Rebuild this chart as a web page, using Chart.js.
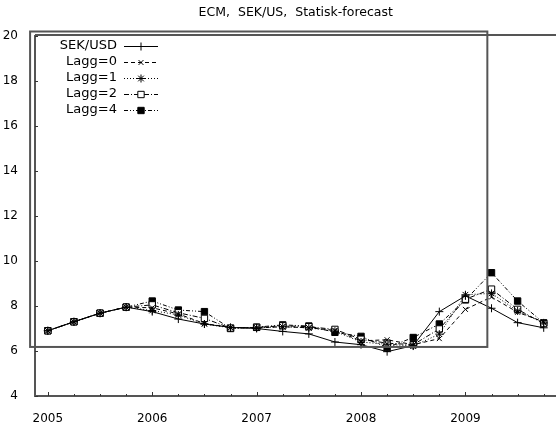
<!DOCTYPE html>
<html>
<head>
<meta charset="utf-8">
<script src="https://cdn.jsdelivr.net/npm/chart.js@4.4.1/dist/chart.umd.min.js"></script>
<style>
    html, body { margin: 0; padding: 0; background: #fff; overflow: hidden; }
    #wrap { position: relative; width: 556px; height: 423px; }
</style>
</head>
<body>
<div id="wrap"><canvas id="ecmChart" width="556" height="423"></canvas></div>
<script>
// Quarterly SEK/USD and the static forecasts, 2005Q1 - 2009Q4
const quarters = [2005, 2005.25, 2005.5, 2005.75, 2006, 2006.25, 2006.5, 2006.75,
                  2007, 2007.25, 2007.5, 2007.75, 2008, 2008.25, 2008.5, 2008.75,
                  2009, 2009.25, 2009.5, 2009.75];
const sekUsd = [6.90, 7.30, 7.68, 7.95, 7.75, 7.42, 7.20, 7.05, 7.00, 6.87,
                6.76, 6.40, 6.28, 5.97, 6.24, 7.75, 8.45, 7.90, 7.26, 7.03];
const lagg0  = [6.90, 7.30, 7.68, 7.95, 7.92, 7.65, 7.22, 7.05, 7.02, 7.08,
                7.03, 6.92, 6.45, 6.50, 6.28, 6.55, 7.85, 8.40, 7.72, 7.30];
const lagg1  = [6.90, 7.30, 7.68, 7.95, 7.80, 7.60, 7.20, 7.03, 7.03, 7.08,
                7.03, 6.88, 6.40, 6.30, 6.22, 6.75, 8.50, 8.56, 7.78, 7.25];
const lagg2  = [6.90, 7.30, 7.68, 7.95, 8.05, 7.70, 7.45, 7.02, 7.05, 7.12,
                7.08, 6.96, 6.52, 6.35, 6.28, 6.98, 8.30, 8.75, 7.85, 7.22];
const lagg4  = [6.90, 7.30, 7.68, 7.95, 8.22, 7.82, 7.75, 7.00, 7.06, 7.16,
                7.11, 6.83, 6.65, 6.15, 6.60, 7.20, 8.27, 9.48, 8.22, 7.25];
const seriesLabels = ['SEK/USD', 'Lagg=0', 'Lagg=1', 'Lagg=2', 'Lagg=4'];
const yearTicks = [2005, 2006, 2007, 2008, 2009];
const yTicks = [4, 6, 8, 10, 12, 14, 16, 18, 20];

const FONT = 'DejaVu Sans';
const FRAME = '#555';

function toPoints(values) {
    return values.map((v, i) => ({ x: quarters[i], y: v }));
}

function series(label, values, style) {
    return Object.assign({
        label: label,
        data: toPoints(values),
        borderColor: '#000',
        backgroundColor: '#000',
        pointBorderColor: '#000',
        borderWidth: 1,
        pointBorderWidth: 1,
        tension: 0,
        fill: false
    }, style);
}

// frame, inward ticks, title and the old-style legend
const framePlugin = {
    id: 'framePlugin',
    afterDraw(chart) {
        const { ctx, chartArea: a, scales: { x, y } } = chart;
        ctx.save();
        ctx.strokeStyle = FRAME;
        ctx.lineWidth = 2;
        ctx.beginPath();
        ctx.moveTo(a.left, a.top - 1);
        ctx.lineTo(chart.width, a.top - 1);
        ctx.moveTo(a.left, a.top - 1);
        ctx.lineTo(a.left, a.bottom);
        ctx.lineTo(chart.width, a.bottom);
        ctx.stroke();

        // outer box around the forecast panel
        const bx0 = x.getPixelForValue(2004.83), bx1 = x.getPixelForValue(2009.21);
        const by0 = y.getPixelForValue(20.2), by1 = y.getPixelForValue(6.18);
        ctx.strokeRect(bx0, by0, bx1 - bx0, by1 - by0);

        // inward tick marks
        ctx.lineWidth = 1;
        ctx.strokeStyle = '#333';
        ctx.beginPath();
        quarters.forEach(q => {
            const px = Math.round(x.getPixelForValue(q)) + 0.5;
            const len = Number.isInteger(q) ? 4 : 2;
            ctx.moveTo(px, a.bottom);
            ctx.lineTo(px, a.bottom - len);
        });
        yTicks.forEach(t => {
            const py = Math.round(y.getPixelForValue(t)) + 0.5;
            ctx.moveTo(a.left, py);
            ctx.lineTo(a.left + 3, py);
        });
        ctx.stroke();

        // title
        ctx.fillStyle = '#000';
        ctx.font = '12.5px "' + FONT + '"';
        ctx.textAlign = 'center';
        ctx.textBaseline = 'middle';
        ctx.fillText('ECM,  SEK/US,  Statisk-forecast', (a.left + a.right) / 2 + 3, 13);

        // legend
        ctx.font = '13px "' + FONT + '"';
        ctx.textAlign = 'right';
        chart.data.datasets.forEach((ds, i) => {
            const ly = a.top + 10 + i * 16;
            const tx = a.left + 82;
            ctx.fillStyle = '#000';
            ctx.fillText(ds.label, tx, ly);
            ctx.strokeStyle = '#000';
            ctx.lineWidth = 1;
            ctx.setLineDash(ds.borderDash || []);
            ctx.beginPath();
            ctx.moveTo(tx + 7, ly + 0.5);
            ctx.lineTo(tx + 41, ly + 0.5);
            ctx.stroke();
            ctx.setLineDash([]);
            ctx.fillStyle = ds.pointBackgroundColor || '#000';
            Chart.helpers.drawPoint(ctx, {
                pointStyle: ds.pointStyle,
                radius: ds.pointRadius,
                rotation: 0,
                borderWidth: 1
            }, tx + 24, ly + 0.5);
        });
        ctx.restore();
    }
};

new Chart(document.getElementById('ecmChart'), {
    type: 'line',
    data: {
        datasets: [
            series(seriesLabels[0], sekUsd, { pointStyle: 'cross', pointRadius: 4 }),
            series(seriesLabels[1], lagg0, { pointStyle: 'crossRot', pointRadius: 3.5, borderDash: [4, 3] }),
            series(seriesLabels[2], lagg1, { pointStyle: 'star', pointRadius: 4, borderDash: [1, 2] }),
            series(seriesLabels[3], lagg2, { pointStyle: 'rect', pointRadius: 4.5, borderDash: [5, 2, 1, 2],
                pointBackgroundColor: '#fff' }),
            series(seriesLabels[4], lagg4, { pointStyle: 'rect', pointRadius: 4.5, borderDash: [4, 2, 1, 2, 1, 2],
                pointBackgroundColor: '#000' })
        ]
    },
    options: {
        responsive: false,
        animation: false,
        devicePixelRatio: 1,
        layout: { padding: { top: 36, left: 0, right: 0, bottom: 0 } },
        plugins: {
            legend: { display: false },
            title: { display: false },
            tooltip: { enabled: false }
        },
        scales: {
            x: {
                type: 'linear',
                min: 2004.877,
                max: 2009.815,
                afterBuildTicks: scale => { scale.ticks = quarters.map(v => ({ value: v })); },
                afterFit: scale => { scale.height = 27; },
                grid: { display: false },
                border: { display: false },
                ticks: {
                    autoSkip: false,
                    maxRotation: 0,
                    padding: 8,
                    color: '#000',
                    font: { family: FONT, size: 12 },
                    callback: v => (yearTicks.includes(v) ? String(v) : '')
                }
            },
            y: {
                min: 4,
                max: 20,
                afterBuildTicks: scale => { scale.ticks = yTicks.map(v => ({ value: v })); },
                afterFit: scale => { scale.width = 35; },
                grid: { display: false },
                border: { display: false },
                ticks: {
                    padding: 9,
                    color: '#000',
                    font: { family: FONT, size: 12 }
                }
            }
        }
    },
    plugins: [framePlugin]
});
</script>
</body>
</html>
